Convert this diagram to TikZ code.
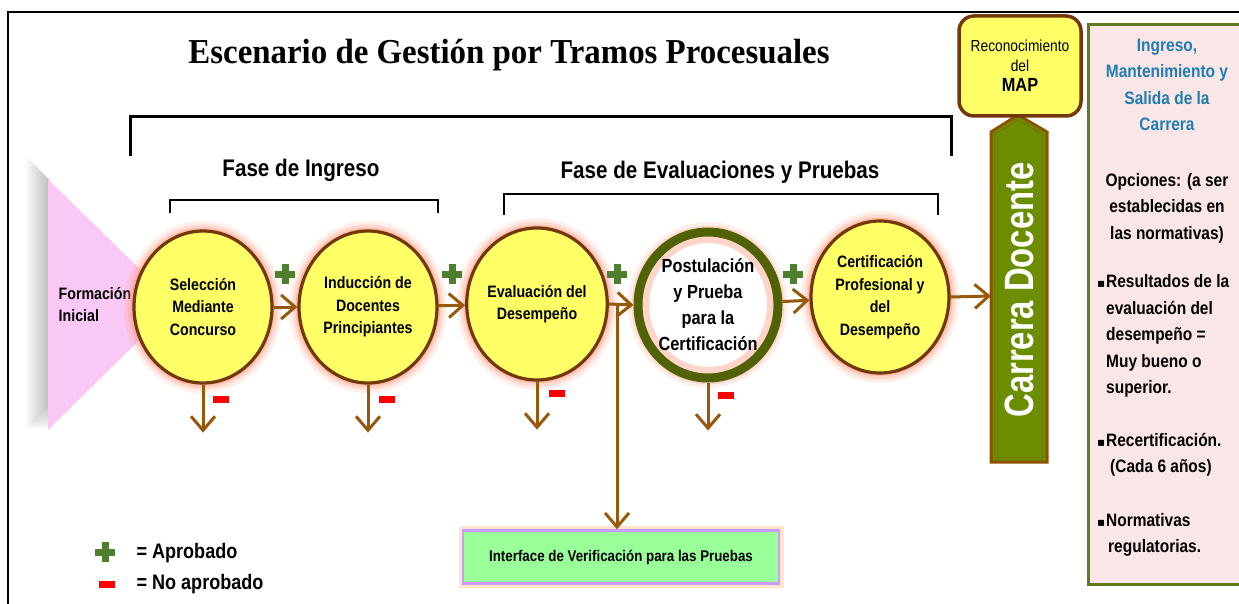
\documentclass[tikz,border=0pt]{standalone}
\usepackage{fontspec}
\setmainfont{Liberation Sans}
\newfontfamily\narrowfont{Liberation Sans}[FakeStretch=0.86]
\newfontfamily\titlefont{Liberation Serif}[FakeStretch=0.94]
\newfontfamily\tallfont{Liberation Sans}[FakeStretch=0.8]
\newfontfamily\symfont{DejaVu Sans}
\usetikzlibrary{shapes.geometric,arrows.meta}

\definecolor{brownline}{RGB}{115,55,10}
\definecolor{arrowc}{RGB}{150,88,10}
\definecolor{yellowc}{RGB}{255,255,102}
\definecolor{glowc}{RGB}{255,150,120}
\definecolor{ringc}{RGB}{80,98,5}
\definecolor{pluscol}{RGB}{78,127,46}
\definecolor{pinkc}{RGB}{250,200,245}
\definecolor{careerc}{RGB}{107,142,0}
\definecolor{careerline}{RGB}{140,82,0}
\definecolor{boxpink}{RGB}{250,230,230}
\definecolor{boxgreen}{RGB}{95,122,26}
\definecolor{bluetxt}{RGB}{31,125,175}
\definecolor{ifacegreen}{RGB}{153,255,153}
\definecolor{ifaceline}{RGB}{204,153,255}

\newcommand{\blt}{\makebox[9pt][l]{\symfont\fontsize{12}{12}\selectfont ▪}}

\tikzset{
  tramo/.style={ellipse, draw=brownline, line width=3.2pt, fill=yellowc,
    minimum width=138pt, minimum height=152pt, inner sep=0pt, align=center,
    font=\narrowfont\bfseries\fontsize{16.5}{22.5}\selectfont,
    preaction={draw=glowc, line width=20pt, opacity=0.15},
    preaction={draw=glowc, line width=13pt, opacity=0.25},
    preaction={draw=glowc, line width=7pt, opacity=0.4}},
  flow/.style={draw=arrowc, line width=3pt, -{Straight Barb[length=14pt,width=24pt]}},
  fase/.style={font=\narrowfont\bfseries\fontsize{24}{28}\selectfont},
  plus/.pic={\fill[pluscol] (-3.5,-10) rectangle (3.5,10); \fill[pluscol] (-10,-3.5) rectangle (10,3.5);},
  minus/.pic={\fill[red] (-8,-3.5) rectangle (8,3.5);},
  sidetxt/.style={font=\narrowfont\bfseries\fontsize{18}{26.5}\selectfont}
}

\begin{document}
\begin{tikzpicture}[x=1pt,y=-1pt]
\useasboundingbox (0,0) rectangle (1239,604);
\draw[line width=1.6pt] (8,604) -- (8,12) -- (1239,12);

\node[font=\titlefont\bfseries\fontsize{35}{40}\selectfont] (titulo) at (509,55) {Escenario de Gestión por Tramos Procesuales};

\draw[line width=3pt] (130,156) -- (130,117) -- (951,117) -- (951,156);
\node[fase] (ingreso) at (301,170) {Fase de Ingreso};
\draw[line width=1.2pt] (170,213) -- (170,200) -- (438,200) -- (438,213);
\node[fase] (evaluaciones) at (720,172) {Fase de Evaluaciones y Pruebas};
\draw[line width=1.2pt] (504,215) -- (504,194) -- (938,194) -- (938,215);

\foreach \s in {2,4,...,22}
  \fill[black,opacity=0.025] (48-\s,178-\s) -- (176-\s,304-\s*0.5) -- (48-\s,430) -- cycle;
\fill[pinkc] (48,178) -- (176,304) -- (48,430) -- cycle;
\draw[white, line width=1.5pt] (50,180) -- (140,268);
\node[font=\narrowfont\bfseries\fontsize{16.5}{22}\selectfont, align=left] (formacion) at (95,305) {Formación\\ Inicial};

\node[tramo] (c1) at (203,307) {Selección\\Mediante\\Concurso};
\node[tramo] (c2) at (368,307) {Inducción de\\Docentes\\Principiantes};
\node[tramo] (c3) at (537,304) {Evaluación del\\Desempeño};
\node[tramo, draw=ringc, line width=9pt, fill=white, minimum width=140pt, minimum height=146pt,
  font=\narrowfont\bfseries\fontsize{19}{26}\selectfont,
  path picture={\draw[glowc, line width=22pt, opacity=0.4] (path picture bounding box.center) ellipse (70 and 73);}]
  (c4) at (708,305) {Postulación\\y Prueba\\para la\\Certificación};
\node[tramo] (c5) at (880,297) {Certificación\\Profesional y\\del\\Desempeño};

\fill[careerc, draw=careerline, line width=3pt] (991,462) -- (991,132) -- (1018,115) -- (1047,132) -- (1047,462) -- cycle;
\draw[careerline!60!careerc, line width=0.8pt] (995,458) -- (995,134) -- (1018,120) -- (1043,134) -- (1043,458) -- cycle;
\node[rotate=90, white, font=\tallfont\bfseries\fontsize{41}{45}\selectfont] (cd) at (1019,290) {Carrera Docente};
\coordinate (cdin) at (991,296);

\node[draw=brownline, line width=3.5pt, fill=yellowc, rounded corners=15pt, minimum width=122pt, minimum height=100pt,
  align=center, font=\narrowfont\fontsize{16}{20}\selectfont] (map) at (1020,66)
  {Reconocimiento\\del\\{\bfseries\fontsize{19}{25}\selectfont MAP}};

\node[draw=ifaceline, line width=2.5pt, fill=ifacegreen, minimum width=316pt, minimum height=53pt,
  font=\narrowfont\bfseries\fontsize{15.5}{18}\selectfont,
  preaction={draw=orange!40, line width=9pt, opacity=0.5}] (iface) at (621,557) {Interface de Verificación para las Pruebas};

\draw[flow] (c1) -- (c2);
\draw[flow] (c2) -- (c3);
\draw[flow] (c3.east) -- (c4.west);
\draw[flow] (c4) -- (c5);
\draw[flow] (c5.east) -- (cdin);
\coordinate (br) at (617,304);
\draw[flow] (br) -- (br |- iface.north);
\foreach \c in {c1,c2,c3,c4}
  \draw[flow] (\c.south) -- ++(0,48);

\pic at (285,274) {plus};
\pic at (452,274) {plus};
\pic at (617,274) {plus};
\pic at (793,274) {plus};
\pic at (221,399) {minus};
\pic at (387,399) {minus};
\pic at (557,393) {minus};
\pic at (726,395) {minus};

\pic at (105,552) {plus};
\pic at (107,584) {minus};
\node[anchor=west, font=\narrowfont\bfseries\fontsize{21}{24}\selectfont] (aprobado) at (133,553) {= Aprobado};
\node[anchor=west, font=\narrowfont\bfseries\fontsize{21}{24}\selectfont] (noaprobado) at (133,584) {= No aprobado};

\draw[boxgreen, fill=boxpink, line width=3pt] (1088,25) rectangle (1250,584);
\node[sidetxt, bluetxt, align=center] (carrera) at (1167,85) {Ingreso,\\Mantenimiento y\\Salida de la\\Carrera};
\node[sidetxt, align=center] (opciones) at (1167,208) {Opciones: (a ser\\establecidas en\\las normativas)};
\node[sidetxt, align=left, anchor=west, inner sep=0pt] (op1) at (1097,336)
  {\blt Resultados de la\\\hspace*{9pt}evaluación del\\\hspace*{9pt}desempeño =\\\hspace*{9pt}Muy bueno o\\\hspace*{9pt}superior.};
\node[sidetxt, align=left, anchor=west, inner sep=0pt] (op2) at (1097,455)
  {\blt Recertificación.\\\hspace*{13pt}(Cada 6 años)};
\node[sidetxt, align=left, anchor=west, inner sep=0pt] (op3) at (1097,535)
  {\blt Normativas\\\hspace*{11pt}regulatorias.};
\end{tikzpicture}
\end{document}
